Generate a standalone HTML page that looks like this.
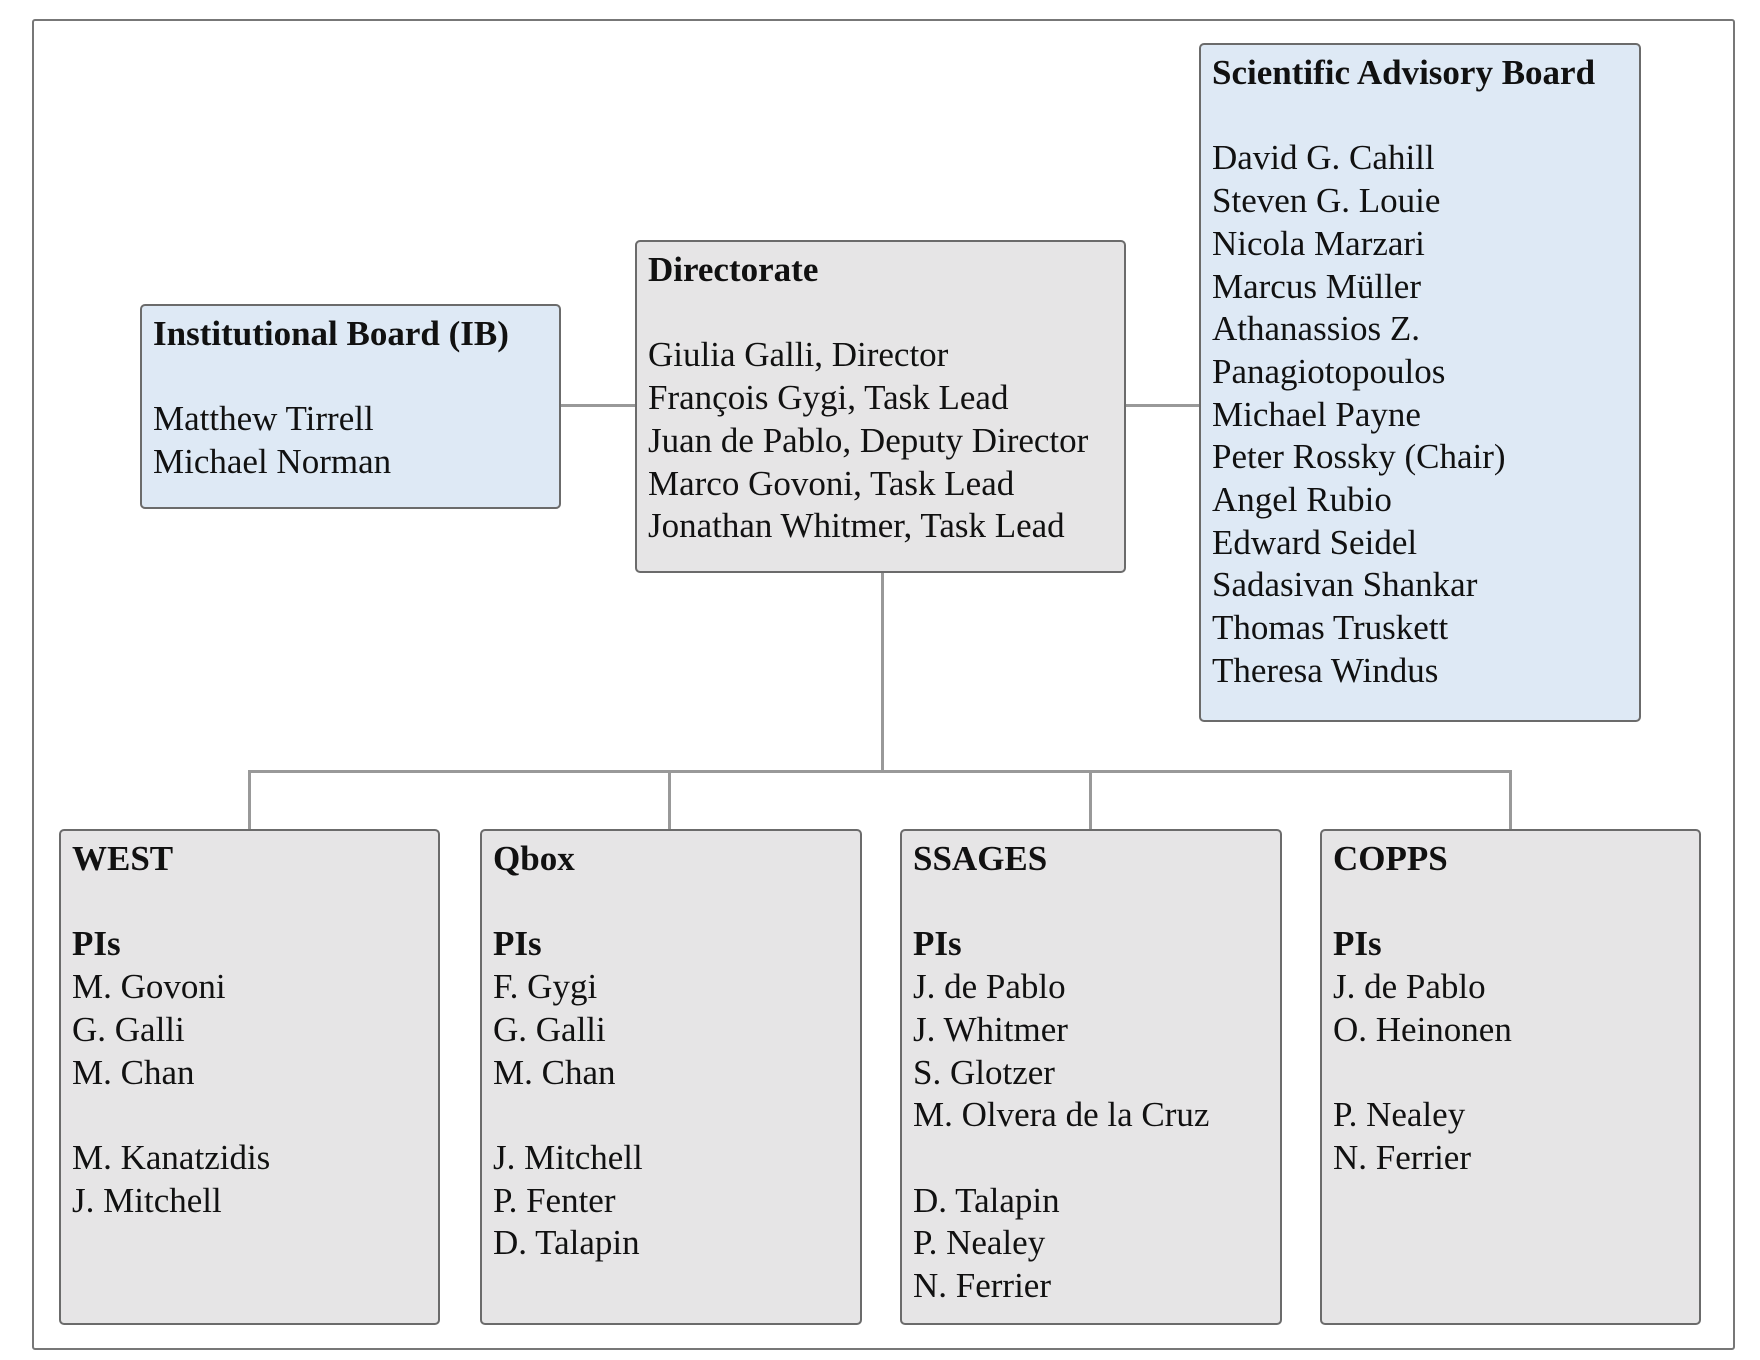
<!DOCTYPE html>
<html><head><meta charset="utf-8"><style>
body{margin:0;width:1760px;height:1360px;background:#fff;position:relative;overflow:hidden;font-family:"Liberation Serif",serif;}
.b{position:absolute;box-sizing:border-box;border:2px solid #6b6b6b;border-radius:5px;padding:7px 0 0 11px;font-size:35px;line-height:42.7px;color:#111;white-space:pre;}
.blue{background:#dee9f5}.gray{background:#e6e5e6}
.l{position:absolute;background:#999}
b{font-weight:bold}
</style></head><body>
<div style="position:absolute;left:32px;top:19px;width:1703px;height:1331px;box-sizing:border-box;border:2px solid #777;border-radius:3px"></div>
<div class="l" style="left:560px;top:404px;width:76px;height:3px"></div>
<div class="l" style="left:1125px;top:404px;width:75px;height:3px"></div>
<div class="l" style="left:881px;top:572px;width:3px;height:200px"></div>
<div class="l" style="left:248px;top:770px;width:1264px;height:3px"></div>
<div class="l" style="left:248px;top:770px;width:3px;height:60px"></div>
<div class="l" style="left:668px;top:770px;width:3px;height:60px"></div>
<div class="l" style="left:1089px;top:770px;width:3px;height:60px"></div>
<div class="l" style="left:1509px;top:770px;width:3px;height:60px"></div>
<div class="b blue" style="left:140px;top:304px;width:421px;height:205px"><b>Institutional Board (IB)</b>

Matthew Tirrell
Michael Norman</div>
<div class="b gray" style="left:635px;top:240px;width:491px;height:333px"><b>Directorate</b>

Giulia Galli, Director
François Gygi, Task Lead
Juan de Pablo, Deputy Director
Marco Govoni, Task Lead
Jonathan Whitmer, Task Lead</div>
<div class="b blue" style="left:1199px;top:43px;width:442px;height:679px"><b>Scientific Advisory Board</b>

David G. Cahill
Steven G. Louie
Nicola Marzari
Marcus Müller
Athanassios Z.
Panagiotopoulos
Michael Payne
Peter Rossky (Chair)
Angel Rubio
Edward Seidel
Sadasivan Shankar
Thomas Truskett
Theresa Windus</div>
<div class="b gray" style="left:59px;top:829px;width:381px;height:496px"><b>WEST</b>

<b>PIs</b>
M. Govoni
G. Galli
M. Chan

M. Kanatzidis
J. Mitchell</div>
<div class="b gray" style="left:480px;top:829px;width:382px;height:496px"><b>Qbox</b>

<b>PIs</b>
F. Gygi
G. Galli
M. Chan

J. Mitchell
P. Fenter
D. Talapin</div>
<div class="b gray" style="left:900px;top:829px;width:382px;height:496px"><b>SSAGES</b>

<b>PIs</b>
J. de Pablo
J. Whitmer
S. Glotzer
M. Olvera de la Cruz

D. Talapin
P. Nealey
N. Ferrier</div>
<div class="b gray" style="left:1320px;top:829px;width:381px;height:496px"><b>COPPS</b>

<b>PIs</b>
J. de Pablo
O. Heinonen

P. Nealey
N. Ferrier</div>
</body></html>
